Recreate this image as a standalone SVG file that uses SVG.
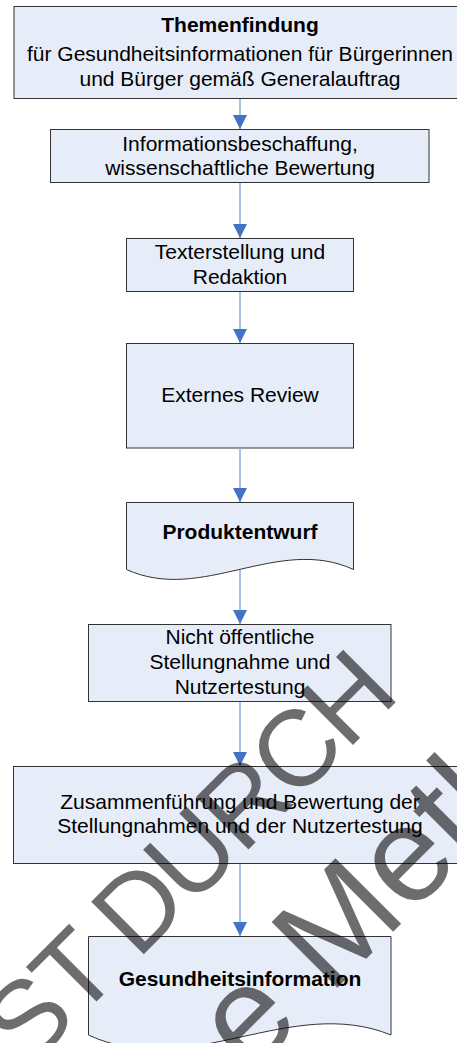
<svg xmlns="http://www.w3.org/2000/svg" width="457" height="1043" viewBox="0 0 457 1043">
<defs>
<style>
.box{fill:#E7EDF8;stroke:#333;stroke-width:1}
.t{font-family:"Liberation Sans",Arial,sans-serif;font-size:21px;fill:#000;text-anchor:middle}
.b{font-weight:bold}
.con{stroke:#8EAADB;stroke-width:1.5;fill:none}
.wm{font-family:"Liberation Sans",Arial,sans-serif;fill:#000;opacity:0.57}
</style>
<marker id="ah" viewBox="0 0 14 14" refX="14" refY="7" markerWidth="14" markerHeight="14" markerUnits="userSpaceOnUse" orient="auto">
<path d="M0,0 L14,7 L0,14 Z" fill="#4472C4"/>
</marker>
</defs>
<rect width="457" height="1043" fill="#fff"/>
<g id="n1"><rect class="box" x="14" y="6.5" width="452" height="92"/>
<text class="t b" x="240" y="32">Themenfindung</text>
<text class="t" x="240" y="61">für Gesundheitsinformationen für Bürgerinnen</text>
<text class="t" x="240" y="86">und Bürger gemäß Generalauftrag</text></g>
<g id="n2"><rect class="box" x="50.5" y="129.5" width="378.5" height="53"/>
<text class="t" x="240" y="151">Informationsbeschaffung,</text>
<text class="t" x="240" y="175">wissenschaftliche Bewertung</text></g>
<g id="n3"><rect class="box" x="126.5" y="238.5" width="227" height="53"/>
<text class="t" x="240" y="259">Texterstellung und</text>
<text class="t" x="240" y="283.5">Redaktion</text></g>
<g id="n4"><rect class="box" x="126.5" y="343.5" width="227" height="104.5"/>
<text class="t" x="240" y="402">Externes Review</text></g>
<g id="n5"><path class="box" d="M126.5,502.5 H353.5 V569.5 C277.8,534.7 202.2,603.9 126.5,569.5 Z"/>
<text class="t b" x="240" y="538.5">Produktentwurf</text></g>
<g id="n6"><rect class="box" x="88.5" y="624.5" width="302.5" height="77"/>
<text class="t" x="240" y="643.5">Nicht öffentliche</text>
<text class="t" x="240" y="668.5">Stellungnahme und</text>
<text class="t" x="240" y="693.5">Nutzertestung</text></g>
<g id="n7"><rect class="box" x="13.5" y="766.5" width="453" height="97"/>
<text class="t" x="240" y="808.5">Zusammenführung und Bewertung der</text>
<text class="t" x="240" y="833">Stellungnahmen und der Nutzertestung</text></g>
<g id="n8"><path class="box" d="M88.5,936.5 H391 V1035 C290,994 189.5,1082 88.5,1035 Z"/>
<text class="t b" x="240" y="986">Gesundheitsinformation</text></g>
<g id="connectors">
<line class="con" x1="240" y1="99" x2="240" y2="129" marker-end="url(#ah)"/>
<line class="con" x1="240" y1="183" x2="240" y2="238" marker-end="url(#ah)"/>
<line class="con" x1="240" y1="292" x2="240" y2="343" marker-end="url(#ah)"/>
<line class="con" x1="240" y1="448" x2="240" y2="502" marker-end="url(#ah)"/>
<line class="con" x1="240" y1="570" x2="240" y2="624" marker-end="url(#ah)"/>
<line class="con" x1="240" y1="702" x2="240" y2="766" marker-end="url(#ah)"/>
<line class="con" x1="240" y1="864" x2="240" y2="936" marker-end="url(#ah)"/>
</g>
<g id="watermark">
<text class="wm" transform="translate(28.6,1069.4) rotate(-45)" font-size="108" letter-spacing="-4">ST DURCH</text>
<text class="wm" transform="translate(250,1075) rotate(-45)" font-size="135">e Meth</text>
</g>
</svg>
